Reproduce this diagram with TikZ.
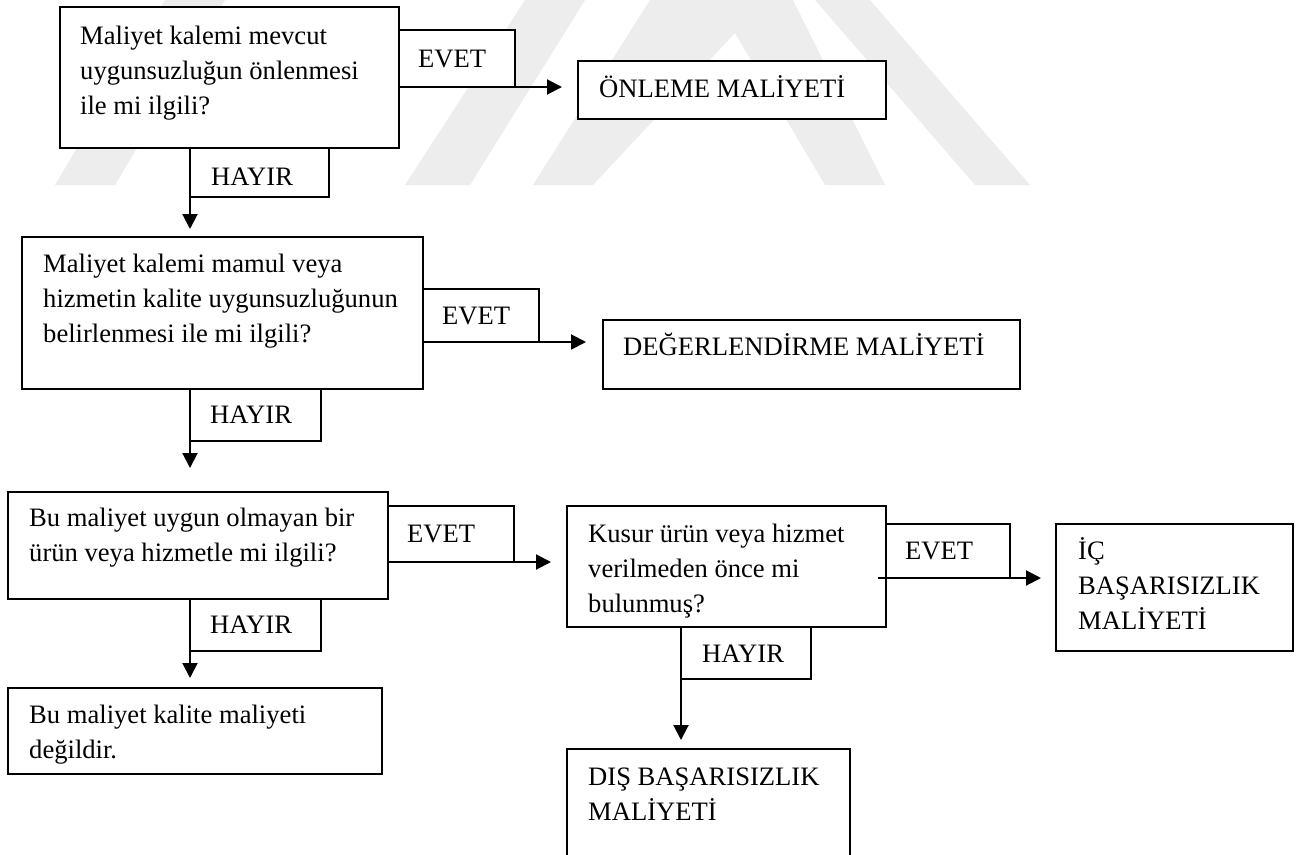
\documentclass[tikz,border=0pt]{standalone}
\usepackage{fontspec}
\setmainfont{Liberation Serif}
\usetikzlibrary{arrows.meta}
\newcommand\dgfont{\fontsize{26.6}{35}\selectfont}
\newcommand\dglines[1]{\parbox[t]{600pt}{\raggedright #1}}
\tikzset{
  box/.style={draw=black, line width=1.3pt, fill=white, inner sep=0pt, outer sep=0pt, anchor=north west},
  txt/.style={inner sep=0pt, anchor=base west, font=\dgfont},
  arr/.style={line width=2pt, -{Triangle[length=15pt,width=15pt]}},
  wm/.style={fill=black!7, draw=none},
}
\begin{document}
\begin{tikzpicture}[x=1pt,y=-1pt]
\useasboundingbox (0,0) rectangle (1309,854);
\clip (0,0) rectangle (1309,854);
\fill[white] (0,0) rectangle (1309,854);
% faint watermark
\fill[wm] (55,185) -- (115,185) -- (225,0) -- (165,0) -- cycle;
\fill[wm] (405,185) -- (470,185) -- (585,0) -- (525,0) -- cycle;
\fill[wm] (533,185) -- (650,0) -- (793,0) -- (885,185) -- (825,185) -- (735,33) -- (593,185) -- cycle;
\fill[wm] (975,185) -- (1030,185) -- (870,0) -- (815,0) -- cycle;

% boxes
\node[box, minimum width=339pt, minimum height=141pt] (q1) at (60,7) {};
\node[box, minimum width=116pt, minimum height=57pt] (e1) at (399,30) {};
\node[box, minimum width=308pt, minimum height=58pt] (o1) at (578,61) {};
\node[box, minimum width=139pt, minimum height=49pt] (h1) at (190,148) {};

\node[box, minimum width=401pt, minimum height=152pt] (q2) at (22,237) {};
\node[box, minimum width=116pt, minimum height=53pt] (e2) at (423,289) {};
\node[box, minimum width=417pt, minimum height=69pt] (d2) at (603,320) {};
\node[box, minimum width=131pt, minimum height=52pt] (h2) at (190,389) {};

\node[box, minimum width=380pt, minimum height=107pt] (q3) at (8,492) {};
\node[box, minimum width=126pt, minimum height=56pt] (e3) at (388,506) {};
\node[box, minimum width=131pt, minimum height=52pt] (h3) at (190,599) {};
\node[box, minimum width=374pt, minimum height=86pt] (q5) at (8,688) {};

\node[box, minimum width=319pt, minimum height=121pt] (q4) at (567,506) {};
\node[box, minimum width=124pt, minimum height=54pt] (e4) at (886,524) {};
\node[box, minimum width=237pt, minimum height=127pt] (ic) at (1056,524) {};
\node[box, minimum width=130pt, minimum height=52pt] (h4) at (681,627) {};
\node[box, minimum width=283pt, minimum height=131pt] (dis) at (567,749) {};

% texts
\node[txt] (q1t) at (80,44) {\dglines{Maliyet kalemi mevcut\\uygunsuzluğun önlenmesi\\ile mi ilgili?}};
\node[txt] (e1t) at (418,67) {EVET};
\node[txt] (o1t) at (599,97) {ÖNLEME MALİYETİ};
\node[txt] (h1t) at (211,185) {HAYIR};

\node[txt] (q2t) at (43,272) {\dglines{Maliyet kalemi mamul veya\\hizmetin kalite uygunsuzluğunun\\belirlenmesi ile mi ilgili?}};
\node[txt] (e2t) at (442,324) {EVET};
\node[txt] (d2t) at (623,355) {DEĞERLENDİRME MALİYETİ};
\node[txt] (h2t) at (210,423) {HAYIR};

\node[txt] (q3t) at (29,526) {\dglines{Bu maliyet uygun olmayan bir\\ürün veya hizmetle mi ilgili?}};
\node[txt] (e3t) at (407,542) {EVET};
\node[txt] (h3t) at (210,633) {HAYIR};
\node[txt] (q5t) at (29,723) {\dglines{Bu maliyet kalite maliyeti\\değildir.}};

\node[txt] (q4t) at (588,542) {\dglines{Kusur ürün veya hizmet\\verilmeden önce mi\\bulunmuş?}};
\node[txt] (e4t) at (905,559) {EVET};
\node[txt] (ict) at (1078,559) {\dglines{İÇ\\BAŞARISIZLIK\\MALİYETİ}};
\node[txt] (h4t) at (702,662) {HAYIR};
\node[txt] (dist) at (588,785) {\dglines{DIŞ BAŞARISIZLIK\\MALİYETİ}};

% connectors
\draw[arr, shorten >=16pt] (q1.east |- e1.south) -- (o1.west |- e1.south);
\draw[arr, shorten >=17pt] (q2.east |- e2.south) -- (d2.west |- e2.south);
\draw[arr, shorten >=16pt] (q3.east |- e3.south) -- (q4.west |- e3.south);
\draw[arr, shorten <=-8pt, shorten >=15pt] (q4.east |- e4.south) -- (ic.west |- e4.south);
\draw[arr, shorten >=8pt] (h1.north west) -- (h1.north west |- q2.north);
\draw[arr, shorten >=24pt] (h2.north west) -- (h2.north west |- q3.north);
\draw[arr, shorten >=10pt] (h3.north west) -- (h3.north west |- q5.north);
\draw[arr, shorten >=9pt] (h4.north west) -- (h4.north west |- dis.north);
\end{tikzpicture}
\end{document}
